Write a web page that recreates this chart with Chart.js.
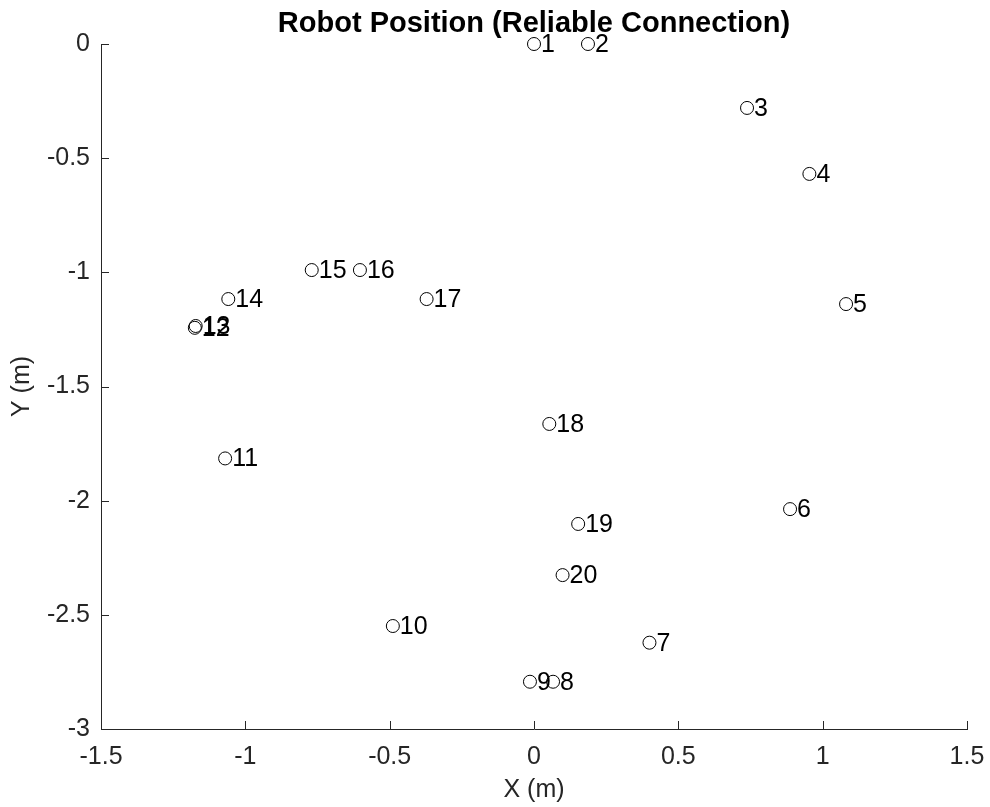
<!DOCTYPE html>
<html>
<head>
<meta charset="utf-8">
<script src="https://cdn.jsdelivr.net/npm/chart.js@4/dist/chart.umd.min.js"></script>
<style>
  html, body { margin: 0; padding: 0; background: #fff; }
  canvas { display: block; }
</style>
</head>
<body>
<canvas id="robotChart" width="990" height="807"></canvas>
<script>
// point numbers and positions (metres)
const pointIds = ['1', '2', '3', '4', '5', '6', '7', '8', '9', '10',
                  '11', '12', '13', '14', '15', '16', '17', '18', '19', '20'];
const xPos = [0, 0.187, 0.738, 0.954, 1.081, 0.887, 0.40, 0.066, -0.014, -0.489,
              -1.070, -1.175, -1.172, -1.059, -0.770, -0.603, -0.372, 0.053, 0.153, 0.099];
const yPos = [0, 0, -0.28, -0.569, -1.139, -2.037, -2.622, -2.793, -2.793, -2.549,
              -1.815, -1.243, -1.235, -1.117, -0.99, -0.99, -1.117, -1.664, -2.102, -2.326];

const xTicks = [-1.5, -1, -0.5, 0, 0.5, 1, 1.5];
const yTicks = [-3, -2.5, -2, -1.5, -1, -0.5, 0];

const FONT = "'Liberation Sans', Arial, Helvetica, sans-serif";
const AXIS_COLOR = '#262626';

// --- labels next to each marker ---
const pointLabels = {
    id: 'pointLabels',
    afterDatasetsDraw(chart) {
        const ctx = chart.ctx;
        const meta = chart.getDatasetMeta(0);
        ctx.save();
        ctx.font = '25px ' + FONT;
        ctx.fillStyle = '#000';
        ctx.textAlign = 'left';
        ctx.textBaseline = 'middle';
        meta.data.forEach((pt, i) => {
            ctx.fillText(pointIds[i], pt.x + 7, pt.y + 1);
        });
        ctx.restore();
    }
};

// --- MATLAB style tick marks pointing inwards ---
const innerTicks = {
    id: 'innerTicks',
    afterDraw(chart) {
        const ctx = chart.ctx;
        const xs = chart.scales.x, ys = chart.scales.y;
        const area = chart.chartArea;
        const len = 8;
        ctx.save();
        ctx.strokeStyle = AXIS_COLOR;
        ctx.lineWidth = 1;
        ctx.beginPath();
        xTicks.forEach(v => {
            const px = Math.round(xs.getPixelForValue(v)) + 0.5;
            ctx.moveTo(px, area.bottom);
            ctx.lineTo(px, area.bottom - len);
        });
        yTicks.forEach(v => {
            const py = Math.round(ys.getPixelForValue(v)) + 0.5;
            ctx.moveTo(area.left, py);
            ctx.lineTo(area.left + len, py);
        });
        ctx.stroke();
        ctx.restore();
    }
};

const points = xPos.map((x, i) => ({ x: x, y: yPos[i] }));

new Chart(document.getElementById('robotChart'), {
    type: 'scatter',
    data: {
        datasets: [{
            data: points,
            clip: false,
            pointStyle: 'circle',
            pointRadius: 6.5,
            pointHoverRadius: 6.5,
            borderWidth: 1,
            borderColor: '#000',
            backgroundColor: 'rgba(0,0,0,0)'
        }]
    },
    options: {
        responsive: false,
        animation: false,
        devicePixelRatio: 1,
        events: [],
        layout: { padding: { left: 0, right: 23, top: 0, bottom: 0 } },
        plugins: {
            legend: { display: false },
            tooltip: { enabled: false },
            title: {
                display: true,
                fullSize: false,
                text: 'Robot Position (Reliable Connection)',
                color: '#000',
                font: { family: FONT, size: 29, weight: 'bold' },
                padding: { top: 7, bottom: 2.2 }
            }
        },
        scales: {
            x: {
                type: 'linear',
                min: -1.5,
                max: 1.5,
                afterBuildTicks: s => { s.ticks = xTicks.map(v => ({ value: v })); },
                afterFit: s => {
                    s.height = 78;
                    s.paddingLeft = 0;
                    s.paddingRight = 0;
                },
                grid: { display: true, drawOnChartArea: false, drawTicks: false },
                border: { display: true, color: AXIS_COLOR, width: 1 },
                ticks: {
                    color: AXIS_COLOR,
                    font: { family: FONT, size: 25 },
                    padding: 13,
                    maxRotation: 0,
                    callback: v => String(v)
                },
                title: {
                    display: true,
                    text: 'X (m)',
                    color: AXIS_COLOR,
                    font: { family: FONT, size: 25 },
                    padding: { top: 0, bottom: 2 }
                }
            },
            y: {
                type: 'linear',
                min: -3,
                max: 0,
                afterBuildTicks: s => { s.ticks = yTicks.map(v => ({ value: v })); },
                afterFit: s => {
                    s.width = 101;
                    s.paddingTop = 0;
                    s.paddingBottom = 0;
                },
                grid: { display: true, drawOnChartArea: false, drawTicks: false },
                border: { display: true, color: AXIS_COLOR, width: 1 },
                ticks: {
                    color: AXIS_COLOR,
                    font: { family: FONT, size: 25 },
                    padding: 11,
                    callback: v => String(v)
                },
                title: {
                    display: true,
                    text: 'Y (m)',
                    color: AXIS_COLOR,
                    font: { family: FONT, size: 25 },
                    padding: { top: 7, bottom: 0 }
                }
            }
        }
    },
    plugins: [pointLabels, innerTicks]
});
</script>
</body>
</html>
